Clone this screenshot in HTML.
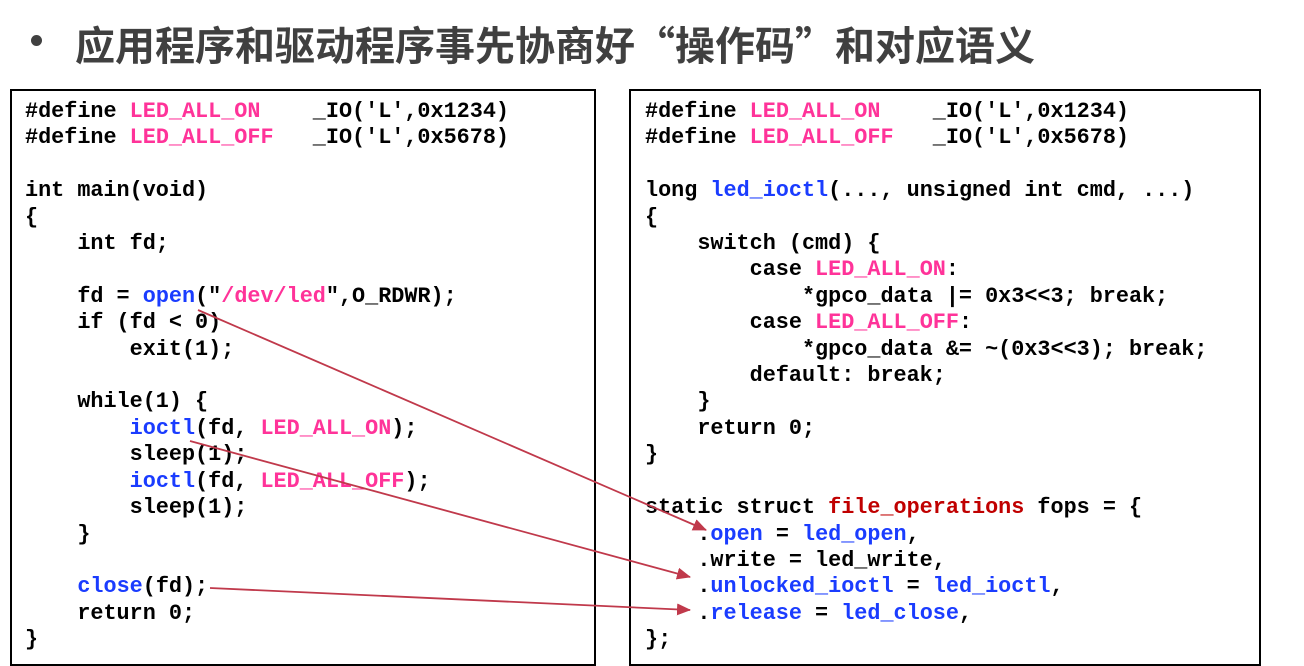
<!DOCTYPE html>
<html><head><meta charset="utf-8"><style>
body{margin:0;width:1304px;height:666px;background:#fff;position:relative;overflow:hidden}
.t{position:absolute;left:75px;top:14px;font:bold 40px "Noto Sans CJK SC",sans-serif;color:#404040;white-space:nowrap}
.b{position:absolute;left:31px;top:35px;width:11px;height:11px;border-radius:50%;background:#404040}
.box{position:absolute;border:2.5px solid #000;box-sizing:border-box}
pre{position:absolute;margin:0;font:bold 21.8px/26.4px "Liberation Mono",monospace;color:#000}
.p{color:#ff3399}.u{color:#1a3cff}.r{color:#c00000}
svg{position:absolute;left:0;top:0}
</style></head><body>
<div class="b"></div>
<div class="t">应用程序和驱动程序事先协商好“操作码”和对应语义</div>
<div class="box" style="left:10px;top:89px;width:586px;height:577px"></div>
<div class="box" style="left:629px;top:89px;width:632px;height:577px"></div>
<pre style="left:25px;top:99px">#define <span class="p">LED_ALL_ON</span>    _IO('L',0x1234)
#define <span class="p">LED_ALL_OFF</span>   _IO('L',0x5678)

int main(void)
{
    int fd;

    fd = <span class="u">open</span>("<span class="p">/dev/led</span>",O_RDWR);
    if (fd &lt; 0)
        exit(1);

    while(1) {
        <span class="u">ioctl</span>(fd, <span class="p">LED_ALL_ON</span>);
        sleep(1);
        <span class="u">ioctl</span>(fd, <span class="p">LED_ALL_OFF</span>);
        sleep(1);
    }

    <span class="u">close</span>(fd);
    return 0;
}</pre>
<pre style="left:645px;top:99px">#define <span class="p">LED_ALL_ON</span>    _IO('L',0x1234)
#define <span class="p">LED_ALL_OFF</span>   _IO('L',0x5678)

long <span class="u">led_ioctl</span>(..., unsigned int cmd, ...)
{
    switch (cmd) {
        case <span class="p">LED_ALL_ON</span>:
            *gpco_data |= 0x3&lt;&lt;3; break;
        case <span class="p">LED_ALL_OFF</span>:
            *gpco_data &amp;= ~(0x3&lt;&lt;3); break;
        default: break;
    }
    return 0;
}

static struct <span class="r">file_operations</span> fops = {
    .<span class="u">open</span> = <span class="u">led_open</span>,
    .write = led_write,
    .<span class="u">unlocked_ioctl</span> = <span class="u">led_ioctl</span>,
    .<span class="u">release</span> = <span class="u">led_close</span>,
};</pre>
<svg width="1304" height="666"><defs><marker id="a" markerWidth="14" markerHeight="12" refX="13" refY="6" orient="auto" markerUnits="userSpaceOnUse"><path d="M0,0L14,6L0,12z" fill="#c0394b"/></marker></defs>
<g stroke="#c0394b" stroke-width="1.8" fill="none" marker-end="url(#a)">
<line x1="198" y1="310" x2="706" y2="530"/>
<line x1="190" y1="441" x2="690" y2="577"/>
<line x1="210" y1="588" x2="690" y2="610"/>
</g></svg>
</body></html>
